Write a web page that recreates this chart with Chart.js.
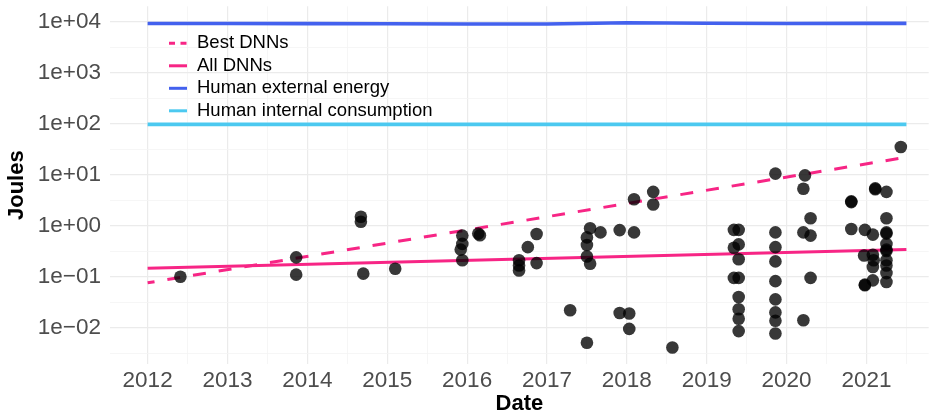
<!DOCTYPE html>
<html>
<head>
  <title>Energy per inference: DNNs vs humans</title>
  <script src="https://cdn.jsdelivr.net/npm/chart.js"></script>
  <style>
    body { margin: 0; background: #fff; overflow: hidden; }
    #wrap { width: 935px; height: 415px; }
    canvas { display: block; }
  </style>
</head>
<body>
  <div id="wrap"><canvas id="chart" width="935" height="415"></canvas></div>

  <script>
    // model releases: date (decimal year) and energy per inference (J)
    const modelDates = [
      2012.41, 2013.86, 2013.86, 2014.67, 2014.67, 2014.70, 2015.10,
      2015.94, 2015.94, 2015.92, 2015.94, 2016.14, 2016.16,
      2016.65, 2016.65, 2016.65, 2016.76, 2016.87, 2016.87,
      2017.29, 2017.50, 2017.54, 2017.50, 2017.50, 2017.50, 2017.54, 2017.67,
      2017.91, 2017.91, 2018.03, 2018.03, 2018.09, 2018.09, 2018.33, 2018.33, 2018.57,
      2019.34, 2019.40, 2019.40, 2019.34, 2019.40, 2019.34, 2019.40, 2019.40, 2019.40, 2019.40, 2019.40,
      2019.86, 2019.86, 2019.86, 2019.86, 2019.86, 2019.86, 2019.86, 2019.86, 2019.86,
      2020.23, 2020.21, 2020.30, 2020.21, 2020.30, 2020.30, 2020.21,
      2020.81, 2020.81, 2020.81, 2020.98, 2021.08, 2020.97, 2021.08, 2021.09, 2021.08, 2021.08, 2020.98, 2020.98,
      2021.11, 2021.11, 2021.25, 2021.25, 2021.25, 2021.25, 2021.25, 2021.25, 2021.25, 2021.25, 2021.25, 2021.25, 2021.25,
      2021.43
    ];
    const modelJoules = [
      0.10, 0.24, 0.11, 1.5, 1.2, 0.115, 0.143,
      0.64, 0.44, 0.34, 0.21, 0.70, 0.65,
      0.21, 0.166, 0.133, 0.38, 0.69, 0.185,
      0.022, 0.0051, 0.89, 0.59, 0.42, 0.25, 0.18, 0.74,
      0.82, 0.0195, 0.019, 0.0095, 3.3, 0.74, 4.6, 2.6, 0.0041,
      0.83, 0.83, 0.43, 0.37, 0.22, 0.095, 0.095, 0.040, 0.023, 0.015, 0.0086,
      10.5, 0.74, 0.38, 0.20, 0.082, 0.036, 0.020, 0.0137, 0.0077,
      9.7, 5.3, 1.4, 0.74, 0.64, 0.095, 0.014,
      3.0, 2.9, 0.86, 0.83, 0.67, 0.26, 0.27, 0.21, 0.155, 0.085, 0.068, 0.070,
      5.4, 5.2, 4.6, 1.4, 0.74, 0.70, 0.44, 0.34, 0.32, 0.21, 0.166, 0.118, 0.079,
      35
    ];

    // fitted trends
    const bestDates = [2012, 2021.5];
    const bestJoules = [0.076, 22];
    const allDates = [2012, 2021.5];
    const allJoules = [0.147, 0.34];

    // human references
    const externalDates = [2012, 2013, 2014, 2015, 2016, 2017, 2018, 2019, 2020, 2021, 2021.5];
    const externalJoules = [9200, 9200, 9150, 9100, 9000, 8950, 9500, 9300, 9200, 9250, 9250];
    const internalDates = [2012, 2021.5];
    const internalJoules = [97, 97];

    // axes
    const yearTicks = [2012, 2013, 2014, 2015, 2016, 2017, 2018, 2019, 2020, 2021];
    const joulePowers = [-2, -1, 0, 1, 2, 3, 4];

    const pair = (xs, ys) => xs.map((x, i) => ({ x: x, y: ys[i] }));
    const sciLabel = p => '1e' + (p < 0 ? '\u2212' : '+') + String(Math.abs(p)).padStart(2, '0');
    const isPow = v => { const p = Math.log10(v); return Math.abs(p - Math.round(p)) < 1e-6; };

    const FONT = "'Liberation Sans', Arial, sans-serif";

    // legend drawn inside the panel, top left, like ggplot's
    const insideLegend = {
      id: 'insideLegend',
      afterDatasetsDraw(chart) {
        const ctx = chart.ctx;
        const items = chart.data.datasets.filter(d => d.inLegend);
        ctx.save();
        ctx.font = '18.5px ' + FONT;
        ctx.textBaseline = 'middle';
        ctx.textAlign = 'left';
        items.forEach((d, i) => {
          const y = 43.3 + i * 22.5;
          ctx.strokeStyle = d.borderColor;
          ctx.lineWidth = 3;
          ctx.setLineDash(d.borderDash ? [6, 5.5] : []);
          ctx.beginPath();
          ctx.moveTo(169, y);
          ctx.lineTo(187, y);
          ctx.stroke();
          ctx.setLineDash([]);
          ctx.fillStyle = '#000';
          ctx.fillText(d.label, 197, y);
        });
        ctx.restore();
      }
    };

    const lineSet = (label, xs, ys, color, width, dash) => ({
      label: label,
      data: pair(xs, ys),
      showLine: true,
      borderColor: color,
      backgroundColor: color,
      borderWidth: width,
      borderDash: dash,
      borderDashOffset: dash ? 6 : 0,
      pointRadius: 0,
      tension: 0,
      inLegend: true
    });

    new Chart(document.getElementById('chart'), {
      type: 'scatter',
      data: {
        datasets: [
          {
            label: 'models',
            data: pair(modelDates, modelJoules),
            backgroundColor: 'rgba(0,0,0,0.78)',
            borderWidth: 0,
            pointRadius: 6.3,
            inLegend: false
          },
          lineSet('Best DNNs', bestDates, bestJoules, '#f72585', 3, [13, 13]),
          lineSet('All DNNs', allDates, allJoules, '#f72585', 3, undefined),
          lineSet('Human external energy', externalDates, externalJoules, '#4361ee', 3.6, undefined),
          lineSet('Human internal consumption', internalDates, internalJoules, '#4cc9f0', 3.6, undefined)
        ]
      },
      options: {
        responsive: false,
        animation: false,
        layout: { padding: { top: 3.5, right: 0, bottom: 0, left: 0 } },
        plugins: {
          legend: { display: false },
          tooltip: { enabled: false }
        },
        scales: {
          x: {
            type: 'linear',
            min: 2011.529,
            max: 2021.779,
            afterBuildTicks: scale => {
              const t = [];
              yearTicks.forEach(y => { t.push({ value: y }); t.push({ value: y + 0.5 }); });
              scale.ticks = t;
            },
            afterFit: scale => {
              scale.height = 51;
              scale.paddingLeft = 0;
              scale.paddingRight = 0;
            },
            border: { display: false },
            grid: {
              drawTicks: false,
              color: c => (c.tick && Number.isInteger(c.tick.value)) ? '#ebebeb' : '#f4f4f4',
              lineWidth: c => (c.tick && Number.isInteger(c.tick.value)) ? 1.2 : 0.8
            },
            ticks: {
              autoSkip: false,
              maxRotation: 0,
              padding: 3,
              color: '#4d4d4d',
              font: { family: FONT, size: 22.5 },
              callback: v => Number.isInteger(v) ? String(v) : ''
            },
            title: {
              display: true,
              text: 'Date',
              color: '#000',
              font: { family: FONT, size: 22, weight: 'bold' },
              padding: { top: 0, bottom: -2 }
            }
          },
          y: {
            type: 'logarithmic',
            min: Math.pow(10, -2.71),
            max: Math.pow(10, 4.30),
            afterBuildTicks: scale => {
              const t = [];
              joulePowers.forEach(p => { t.push({ value: Math.pow(10, p - 0.5) }); t.push({ value: Math.pow(10, p) }); });
              scale.ticks = t;
            },
            afterFit: scale => {
              scale.width = 110;
              scale.paddingTop = 0;
              scale.paddingBottom = 0;
            },
            border: { display: false },
            grid: {
              drawTicks: false,
              color: c => (c.tick && isPow(c.tick.value)) ? '#ebebeb' : '#f4f4f4',
              lineWidth: c => (c.tick && isPow(c.tick.value)) ? 1.2 : 0.8
            },
            ticks: {
              autoSkip: false,
              padding: 9,
              color: '#4d4d4d',
              font: { family: FONT, size: 22.5 },
              callback: v => isPow(v) ? sciLabel(Math.round(Math.log10(v))) : ''
            },
            title: {
              display: true,
              text: 'Joules',
              color: '#000',
              font: { family: FONT, size: 22, weight: 'bold' },
              padding: { top: 4, bottom: 0 }
            }
          }
        }
      },
      plugins: [insideLegend]
    });
  </script>
</body>
</html>
